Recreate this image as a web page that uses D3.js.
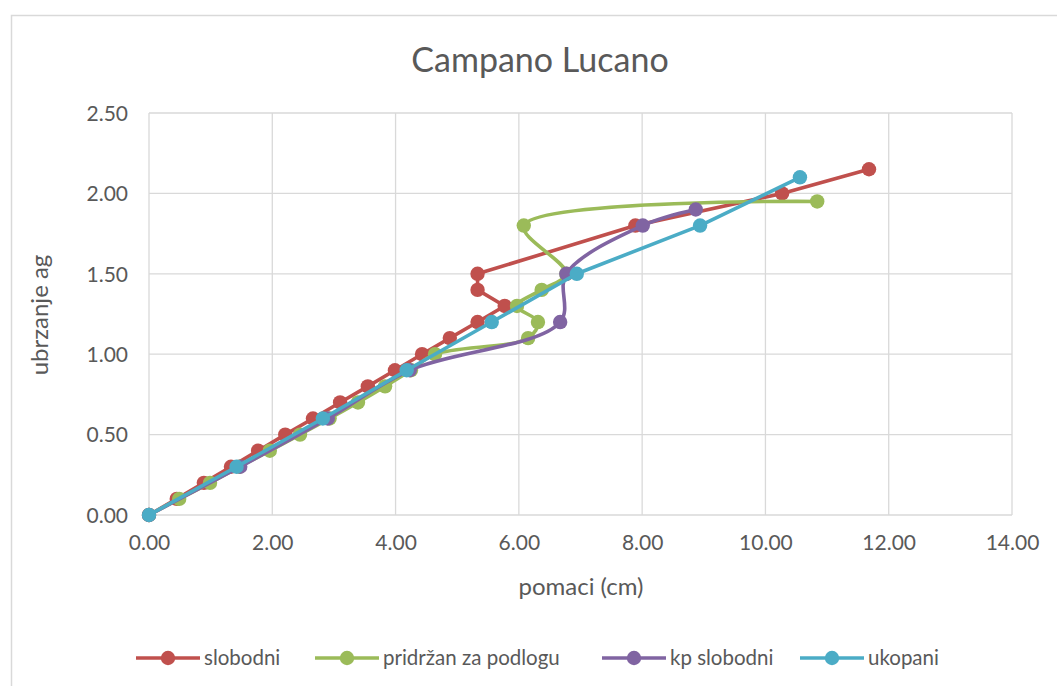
<!DOCTYPE html>
<html><head><meta charset="utf-8">
<script src="https://cdn.jsdelivr.net/npm/d3@7"></script>
<style>body{margin:0;background:#fff;} svg{display:block;font-family:Lato, "Open Sans", sans-serif;}</style>
</head><body>
<svg id="c" width="1057" height="686"></svg>
<script>
const title = "Campano Lucano";
const xTitle = "pomaci (cm)";
const yTitle = "ubrzanje ag";
const xTicks = [0,2,4,6,8,10,12,14];
const yTicks = [0,0.5,1,1.5,2,2.5];
const seriesNames = ["slobodni","pridržan za podlogu","kp slobodni","ukopani"];
const seriesColors = ["#C0504D","#9BBB59","#8064A2","#4BACC6"];
// slobodni
const slobodniX = [0,0.45,0.89,1.33,1.77,2.21,2.66,3.10,3.55,3.99,4.43,4.88,5.33,5.77,5.33,5.33,7.89,10.27,11.68];
const slobodniY = [0,0.1,0.2,0.3,0.4,0.5,0.6,0.7,0.8,0.9,1.0,1.1,1.2,1.3,1.4,1.5,1.8,2.0,2.15];
// pridržan za podlogu
const pridrzanX = [0,0.49,0.99,1.47,1.96,2.45,2.93,3.39,3.83,4.25,4.64,6.15,6.31,5.97,6.37,6.77,6.08,10.84];
const pridrzanY = [0,0.1,0.2,0.3,0.4,0.5,0.6,0.7,0.8,0.9,1.0,1.1,1.2,1.3,1.4,1.5,1.8,1.95];
// kp slobodni
const kpX = [0,1.48,2.90,4.23,6.67,6.77,8.01,8.87];
const kpY = [0,0.3,0.6,0.9,1.2,1.5,1.8,1.9];
// ukopani
const ukopaniX = [0,1.42,2.82,4.18,5.56,6.94,8.94,10.56];
const ukopaniY = [0,0.3,0.6,0.9,1.2,1.5,1.8,2.1];
const smooth = [false,true,true,false];

const allX = [slobodniX,pridrzanX,kpX,ukopaniX];
const allY = [slobodniY,pridrzanY,kpY,ukopaniY];

const svg = d3.select("#c");
const txt = "#595959", grid = "#d9d9d9";
// outer border
svg.append("rect").attr("x",11.5).attr("y",15.5).attr("width",1100).attr("height",700)
  .attr("fill","#fff").attr("stroke","#d9d9d9").attr("stroke-width",1.5);

const x = d3.scaleLinear().domain([0,14]).range([149,1012]);
const y = d3.scaleLinear().domain([0,2.5]).range([515,113]);

// gridlines
const g = svg.append("g");
g.selectAll(".hg").data(yTicks).join("line")
  .attr("x1",x(0)).attr("x2",x(14)).attr("y1",d=>y(d)).attr("y2",d=>y(d))
  .attr("stroke",grid).attr("stroke-width",1.3);
g.selectAll(".vg").data(xTicks).join("line")
  .attr("y1",y(0)).attr("y2",y(2.5)).attr("x1",d=>x(d)).attr("x2",d=>x(d))
  .attr("stroke",grid).attr("stroke-width",1.3);

// axes labels via d3 axes
const xAxis = svg.append("g").attr("transform",`translate(0,${y(0)})`)
  .call(d3.axisBottom(x).tickValues(xTicks).tickFormat(d3.format(".2f")).tickSize(0).tickPadding(20));
const yAxis = svg.append("g").attr("transform",`translate(${x(0)},0)`)
  .call(d3.axisLeft(y).tickValues(yTicks).tickFormat(d3.format(".2f")).tickSize(0).tickPadding(21));
[xAxis,yAxis].forEach(a=>{
  a.select(".domain").remove();
  a.selectAll("text").attr("fill",txt).style("font-size","21px").style("font-family","Lato, 'Open Sans', sans-serif");
});
yAxis.selectAll("text").attr("dy","0.35em");

// title
svg.append("text").attr("x",540).attr("y",72).attr("text-anchor","middle")
  .attr("fill",txt).style("font-size","34px").text(title);
svg.append("text").attr("x",581).attr("y",595).attr("text-anchor","middle")
  .attr("fill",txt).style("font-size","24px").text(xTitle);
svg.append("text").attr("transform","translate(48,315) rotate(-90)").attr("text-anchor","middle")
  .attr("fill",txt).style("font-size","24px").text(yTitle);

// series
allX.forEach((xs,i)=>{
  const pts = xs.map((v,j)=>[v,allY[i][j]]);
  const line = d3.line().x(d=>x(d[0])).y(d=>y(d[1]))
    .curve(smooth[i] ? d3.curveCatmullRom.alpha(0.5) : d3.curveLinear);
  const sg = svg.append("g");
  sg.append("path").attr("d",line(pts)).attr("fill","none")
    .attr("stroke",seriesColors[i]).attr("stroke-width",3.6).attr("stroke-linejoin","round");
  sg.selectAll("circle").data(pts).join("circle")
    .attr("cx",d=>x(d[0])).attr("cy",d=>y(d[1])).attr("r",7.2).attr("fill",seriesColors[i]);
});

// legend
const legM = [168,347,634,832];
const lg = svg.append("g");
seriesNames.forEach((n,i)=>{
  const mx = legM[i], gy = 658;
  lg.append("line").attr("x1",mx-32).attr("x2",mx+32).attr("y1",gy).attr("y2",gy)
    .attr("stroke",seriesColors[i]).attr("stroke-width",3.6);
  lg.append("circle").attr("cx",mx).attr("cy",gy).attr("r",7.2).attr("fill",seriesColors[i]);
  lg.append("text").attr("x",mx+36).attr("y",gy).attr("dy","0.35em")
    .attr("fill",txt).style("font-size","20.5px").text(n);
});
</script>
</body></html>
